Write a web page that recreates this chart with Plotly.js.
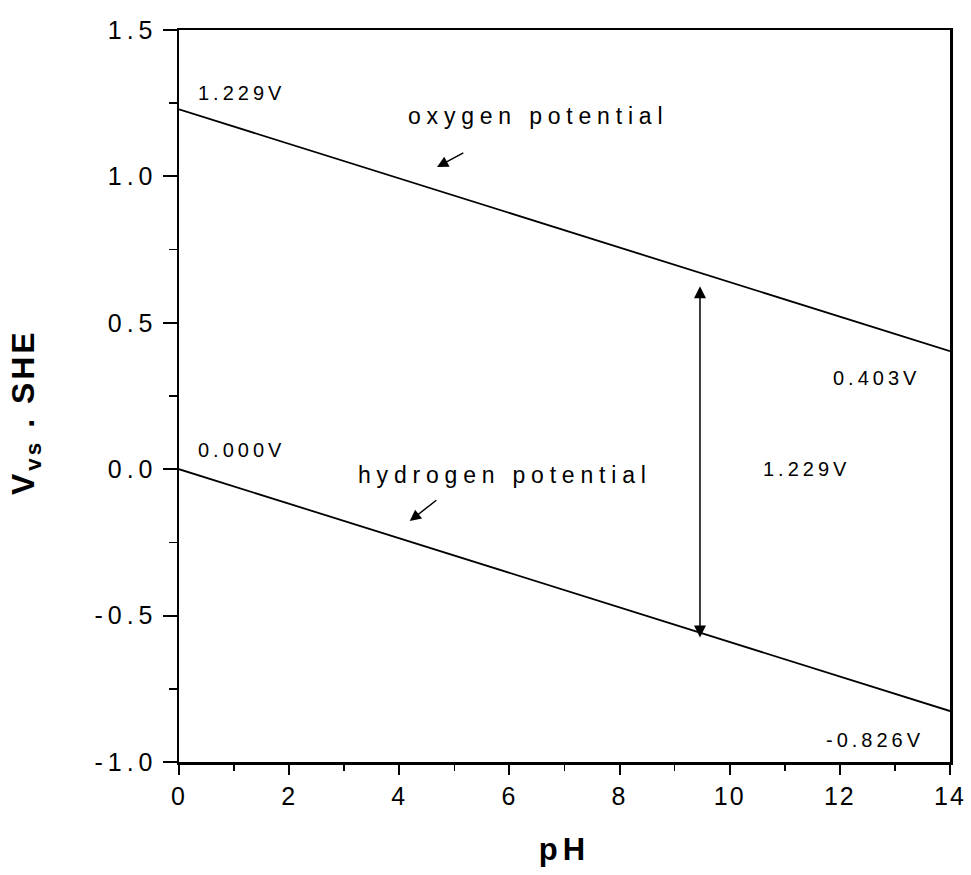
<!DOCTYPE html>
<html>
<head>
<meta charset="utf-8">
<script src="https://cdn.plot.ly/plotly-3.0.1.min.js"></script>
<style>
  html, body { margin: 0; padding: 0; background: #fff; }
  #chart { width: 971px; height: 875px; }
  .annotation-text { letter-spacing: 4px; }
  .ytick text { letter-spacing: 5px; }
  .xtick text { letter-spacing: 2px; }
  .g-xtitle text { letter-spacing: 5px; }
</style>
</head>
<body>
<div id="chart"></div>
<script>
// Data
const pH = [0, 14];
const oxygenPotential = [1.229, 0.403];
const hydrogenPotential = [0.000, -0.826];
const xTickVals = [0, 2, 4, 6, 8, 10, 12, 14];
const yTickVals = [-1.0, -0.5, 0.0, 0.5, 1.0, 1.5];
const yTickText = ['-1.0', '-0.5', '0.0', '0.5', '1.0', '1.5'];
const gapPH = 9.46;
const gapValue = oxygenPotential[0] - hydrogenPotential[0];

const fontFam = '"Liberation Sans", Arial, sans-serif';

const traces = [
  { x: pH, y: oxygenPotential, mode: 'lines', line: { color: '#000', width: 1.8 }, hoverinfo: 'skip', showlegend: false },
  { x: pH, y: hydrogenPotential, mode: 'lines', line: { color: '#000', width: 1.8 }, hoverinfo: 'skip', showlegend: false }
];

const txt = (x, y, text, size) => ({ x, y, xref: 'x', yref: 'y', text, showarrow: false, font: { family: fontFam, size: size || 20, color: '#000' } });
const wide = s => '<span style="letter-spacing:5.8px">' + s + '</span>';

const annotations = [
  txt(1.13, 1.285, oxygenPotential[0].toFixed(3) + 'V'),
  txt(12.66, 0.311, oxygenPotential[1].toFixed(3) + 'V'),
  txt(1.13, 0.066, hydrogenPotential[0].toFixed(3) + 'V'),
  txt(12.64, -0.925, hydrogenPotential[1].toFixed(3) + 'V'),
  txt(11.39, 0.0, gapValue.toFixed(3) + 'V'),
  txt(6.52, 1.205, wide('oxygen potential'), 23),
  txt(5.92, -0.02, wide('hydrogen potential'), 23),
  // y-axis title
  { x: (25 - 179) / 771, y: (762 - 412) / 732, xref: 'paper', yref: 'paper', xanchor: 'center', yanchor: 'middle',
    textangle: -90, showarrow: false, text: '<b><span style="letter-spacing:3px">V<sub>vs</sub> . SHE</span></b>',
    font: { family: fontFam, size: 32, color: '#000' } },
  // pointer arrows
  { x: 4.685, y: 1.032, ax: 5.19, ay: 1.083, xref: 'x', yref: 'y', axref: 'x', ayref: 'y', text: '', showarrow: true, arrowhead: 2, arrowsize: 1.5, arrowwidth: 1.5, arrowcolor: '#000' },
  { x: 4.19, y: -0.177, ax: 4.70, ay: -0.102, xref: 'x', yref: 'y', axref: 'x', ayref: 'y', text: '', showarrow: true, arrowhead: 2, arrowsize: 1.5, arrowwidth: 1.5, arrowcolor: '#000' },
  // double arrow
  { x: gapPH, y: 0.625, ax: gapPH, ay: -0.58, xref: 'x', yref: 'y', axref: 'x', ayref: 'y', text: '', showarrow: true, arrowhead: 2, startarrowhead: 2, arrowside: 'end+start', arrowsize: 1.6, startarrowsize: 1.6, arrowwidth: 1.5, arrowcolor: '#000' }
];

const layout = {
  width: 971, height: 875,
  margin: { l: 179, r: 21, t: 30, b: 113 },
  paper_bgcolor: '#fff', plot_bgcolor: '#fff',
  font: { family: fontFam, color: '#000' },
  xaxis: {
    range: [0, 14], showgrid: false, zeroline: false,
    showline: true, mirror: true, linecolor: '#000', linewidth: 2.5,
    ticks: 'outside', ticklen: 10, tickwidth: 2, tickcolor: '#000',
    tickvals: xTickVals, tickfont: { family: fontFam, size: 25, color: '#000' },
    minor: { dtick: 1, ticks: 'outside', ticklen: 6, tickwidth: 1.5, tickcolor: '#000', showgrid: false },
    title: { text: '<b>pH</b>', font: { family: fontFam, size: 31, color: '#000' }, standoff: 30 }
  },
  yaxis: {
    range: [-1.0, 1.5], showgrid: false, zeroline: false,
    showline: true, mirror: true, linecolor: '#000', linewidth: 2.5,
    ticks: 'outside', ticklen: 14, tickwidth: 2, tickcolor: '#000',
    tickvals: yTickVals, ticktext: yTickText, tickfont: { family: fontFam, size: 25, color: '#000' },
    minor: { dtick: 0.25, ticks: 'outside', ticklen: 8, tickwidth: 1.5, tickcolor: '#000', showgrid: false }
  },
  annotations: annotations
};

Plotly.newPlot('chart', traces, layout, { staticPlot: true, displayModeBar: false });
</script>
</body>
</html>
